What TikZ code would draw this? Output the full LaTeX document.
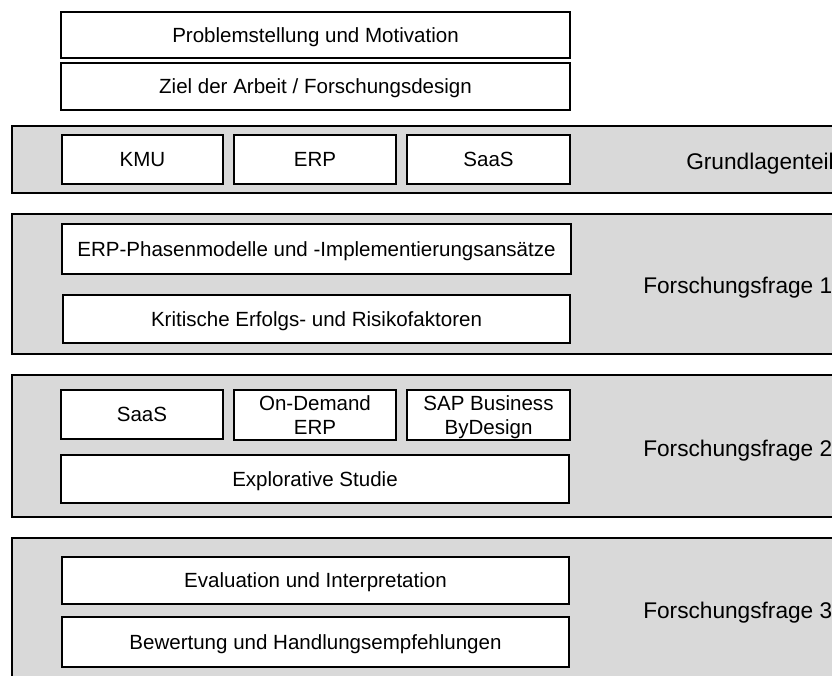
\documentclass[tikz,border=0pt]{standalone}
\usepackage{fontspec}
\setmainfont{Liberation Sans}
\definecolor{panelgray}{RGB}{217,217,217}
\begin{document}
\begin{tikzpicture}[x=0.75pt,y=-0.75pt,
  % span=x1/y1/x2/y2 places a rectangle node between two corners (in px)
  span/.style args={#1/#2/#3/#4}{minimum width={(#3-#1)*0.75pt},
    minimum height={(#4-#2)*0.75pt}, at={({(#1+#3)/2},{(#2+#4)/2})}},
  panel/.style={draw=black, line width=1.5pt, fill=panelgray, inner sep=0pt},
  box/.style={draw=black, line width=1.5pt, fill=white, inner sep=0pt,
    font=\fontsize{15.4}{18.2}\selectfont, text height=11pt, text depth=0pt},
  twoline/.style={box, align=center, text height=29.2pt, text depth=0pt},
  tag/.style={anchor=base west, inner sep=0pt, font=\fontsize{17}{20}\selectfont}]
\useasboundingbox (0,0) rectangle (832,675);
\clip (0,0) rectangle (832,675);

% introduction
\node[box, span=61/12/570/58] (prob) {Problemstellung und Motivation};
\node[box, span=61/63/570/110] (ziel) {Ziel der Arbeit / Forschungsdesign};

% fundamentals
\node[panel, span=12/126/845/193] (grund) {};
\node[tag] (grundlbl) at (686,169) {Grundlagenteil};
\node[box, span=62/135/223/184] (kmu) {KMU};
\node[box, span=234/135/396/184] (erp) {ERP};
\node[box, span=407/135/570/184] (saas) {SaaS};

% research question 1
\node[panel, span=12/214/845/354] (ff1) {};
\node[tag] (ff1lbl) at (643,293) {Forschungsfrage 1};
\node[box, span=62/224/571/274] (phasen) {ERP-Phasenmodelle und -Implementierungsansätze};
\node[box, span=63/295/570/343] (krit) {Kritische Erfolgs- und Risikofaktoren};

% research question 2
\node[panel, span=12/375/845/517] (ff2) {};
\node[tag] (ff2lbl) at (643,456) {Forschungsfrage 2};
\node[box, span=61/390/223/439] (saas2) {SaaS};
\node[twoline, span=234/390/396/440] (ondemand) {On-Demand\\ERP};
\node[twoline, span=407/390/570/440] (sap) {SAP Business\\ByDesign};
\node[box, span=61/455/569/503] (studie) {Explorative Studie};

% research question 3
\node[panel, span=12/538/845/700] (ff3) {};
\node[tag] (ff3lbl) at (643,618) {Forschungsfrage 3};
\node[box, span=62/557/569/604] (eval) {Evaluation und Interpretation};
\node[box, span=62/617/569/667] (bew) {Bewertung und Handlungsempfehlungen};
\end{tikzpicture}
\end{document}
